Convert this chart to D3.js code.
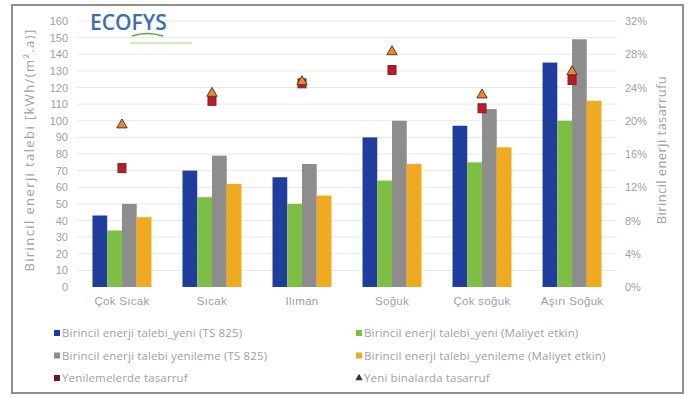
<!DOCTYPE html>
<html>
<head>
<meta charset="utf-8">
<script src="https://cdn.jsdelivr.net/npm/d3@7"></script>
<style>
  html, body { margin: 0; padding: 0; background: #fff; }
  svg { display: block; font-family: "Open Sans", "DejaVu Sans", sans-serif; }
</style>
</head>
<body>
<svg id="chart" width="688" height="397"></svg>
<script>
// Climate zones
const categories = ["Çok Sıcak", "Sıcak", "Ilıman", "Soğuk", "Çok soğuk", "Aşırı Soğuk"];

// Primary energy demand, kWh/(m².a)
const newTS825       = [43, 70, 66, 90, 97, 135];
const newCostOpt     = [34, 54, 50, 64, 75, 100];
const renovTS825     = [50, 79, 74, 100, 107, 149];
const renovCostOpt   = [42, 62, 55, 74, 84, 112];

// Primary energy savings (%)
const savingsRenov   = [14.3, 22.4, 24.5, 26.1, 21.5, 24.9];
const savingsNew     = [19.5, 23.3, 24.7, 28.3, 23.1, 25.9];

const leftTicks  = d3.range(0, 161, 10);
const rightTicks = [0, 4, 8, 12, 16, 20, 24, 28, 32];

const barSeries = [
  { name: "Birincil enerji talebi_yeni (TS 825)",            values: newTS825,     color: "#1f3d9c" },
  { name: "Birincil enerji talebi_yeni (Maliyet etkin)",     values: newCostOpt,   color: "#7cbf42" },
  { name: "Birincil enerji talebi yenileme (TS 825)",        values: renovTS825,   color: "#8d8d8d" },
  { name: "Birincil enerji talebi_yenileme (Maliyet etkin)", values: renovCostOpt, color: "#f0aa1e" }
];

const svg = d3.select("#chart");
const m = { left: 77, right: 617, top: 21, bottom: 287 };
const textGrey = "#a0a0a0";

// outer frame
svg.append("rect").attr("x", 12).attr("y", 5).attr("width", 671).attr("height", 388)
  .attr("fill", "#fff").attr("stroke", "#8f8f8f").attr("stroke-width", 2);

const x0 = d3.scaleBand().domain(categories).range([m.left, m.right]).paddingInner(0.345).paddingOuter(0.172);
const x1 = d3.scaleBand().domain(d3.range(barSeries.length)).range([0, x0.bandwidth()]);
const y  = d3.scaleLinear().domain([0, 160]).range([m.bottom, m.top]);
const y2 = d3.scaleLinear().domain([0, 32]).range([m.bottom, m.top]);

// gridlines
svg.append("g").selectAll("line").data(leftTicks.slice(1)).join("line")
  .attr("x1", m.left).attr("x2", m.right)
  .attr("y1", d => y(d)).attr("y2", d => y(d))
  .attr("stroke", "#e8e8e8").attr("stroke-width", 1);

// left axis
const yAxis = d3.axisLeft(y).tickValues(leftTicks).tickSize(0).tickPadding(0);
const gy = svg.append("g").attr("transform", `translate(${m.left - 9},0)`).call(yAxis);
gy.select(".domain").remove();
gy.selectAll("text").attr("fill", textGrey).style("font-size", "11px");

// right axis
const yAxis2 = d3.axisRight(y2).tickValues(rightTicks).tickFormat(d => d + "%").tickSize(0).tickPadding(0);
const gy2 = svg.append("g").attr("transform", `translate(${m.right + 8},0)`).call(yAxis2);
gy2.select(".domain").remove();
gy2.selectAll("text").attr("fill", textGrey).style("font-size", "11px");

// category axis
const xAxis = d3.axisBottom(x0).tickSize(0).tickPadding(0);
const gx = svg.append("g").attr("transform", `translate(0,${m.bottom + 10})`).call(xAxis);
gx.select(".domain").remove();
gx.selectAll("text").attr("fill", textGrey).style("font-size", "11.5px")
  .style("letter-spacing", "0.3px").attr("dy", "0.71em");

// axis titles
svg.append("text")
  .attr("transform", `translate(34,150) rotate(-90)`)
  .attr("text-anchor", "middle").attr("fill", textGrey).style("font-size", "13px")
  .style("letter-spacing", "1.4px")
  .text("Birincil enerji talebi [kWh/(m².a)]");
svg.append("text")
  .attr("transform", `translate(666,150) rotate(-90)`)
  .attr("text-anchor", "middle").attr("fill", textGrey).style("font-size", "13px")
  .style("letter-spacing", "0.4px")
  .text("Birincil enerji tasarrufu");

// bars
const groups = svg.append("g").selectAll("g").data(categories).join("g")
  .attr("transform", d => `translate(${x0(d)},0)`);
groups.selectAll("rect")
  .data((c, i) => barSeries.map((s, k) => ({ k, v: s.values[i], color: s.color })))
  .join("rect")
  .attr("x", d => x1(d.k)).attr("width", x1.bandwidth())
  .attr("y", d => y(d.v)).attr("height", d => y(0) - y(d.v))
  .attr("fill", d => d.color);

// savings markers
const cx = c => x0(c) + x0.bandwidth() / 2;
svg.append("g").selectAll("rect").data(categories).join("rect")
  .attr("x", c => cx(c) - 4).attr("y", (c, i) => y2(savingsRenov[i]) - 4.5)
  .attr("width", 8).attr("height", 9)
  .attr("fill", "#c4172f").attr("stroke", "#6e2a1e").attr("stroke-width", 1);
const tri = d3.symbol().type(d3.symbolTriangle).size(46);
svg.append("g").selectAll("path").data(categories).join("path")
  .attr("d", tri)
  .attr("transform", (c, i) => `translate(${cx(c)},${y2(savingsNew[i])})`)
  .attr("fill", "#e08a3c").attr("stroke", "#6e3410").attr("stroke-width", 1);

// legend
const legendItems = [
  { name: barSeries[0].name, color: barSeries[0].color, shape: "sq" },
  { name: barSeries[1].name, color: barSeries[1].color, shape: "sq" },
  { name: barSeries[2].name, color: barSeries[2].color, shape: "sq" },
  { name: barSeries[3].name, color: barSeries[3].color, shape: "sq" },
  { name: "Yenilemelerde tasarruf", color: "#6a1526", shape: "sq" },
  { name: "Yeni binalarda tasarruf", color: "#333", shape: "tri" }
];
const lg = svg.append("g").selectAll("g").data(legendItems).join("g")
  .attr("transform", (d, i) => `translate(${i % 2 ? 359 : 57},${333 + Math.floor(i / 2) * 22.5})`);
lg.filter(d => d.shape === "sq").append("rect")
  .attr("x", -3).attr("y", -3).attr("width", 6).attr("height", 6).attr("fill", d => d.color);
lg.filter(d => d.shape === "tri").append("path")
  .attr("d", d3.symbol().type(d3.symbolTriangle).size(24)).attr("fill", d => d.color);
lg.append("text").attr("x", 5).attr("dy", "0.35em")
  .attr("fill", textGrey).style("font-size", "11.5px").style("letter-spacing", "0.15px")
  .text(d => d.name);

// ECOFYS logo
const logo = svg.append("g").attr("transform", "translate(90,0)");
logo.append("text").attr("x", 0).attr("y", 30)
  .attr("fill", "#3d6db3").style("font-size", "21px").style("font-weight", "600")
  .style("font-family", "'Open Sans', sans-serif").text("ECOFYS");
logo.append("path").attr("d", "M42 36 Q57 31 73 36").attr("fill", "none")
  .attr("stroke", "#5aa838").attr("stroke-width", 1.6);
logo.append("line").attr("x1", 40).attr("x2", 102).attr("y1", 43).attr("y2", 43)
  .attr("stroke", "#a6d17f").attr("stroke-width", 1.2);
</script>
</body>
</html>
